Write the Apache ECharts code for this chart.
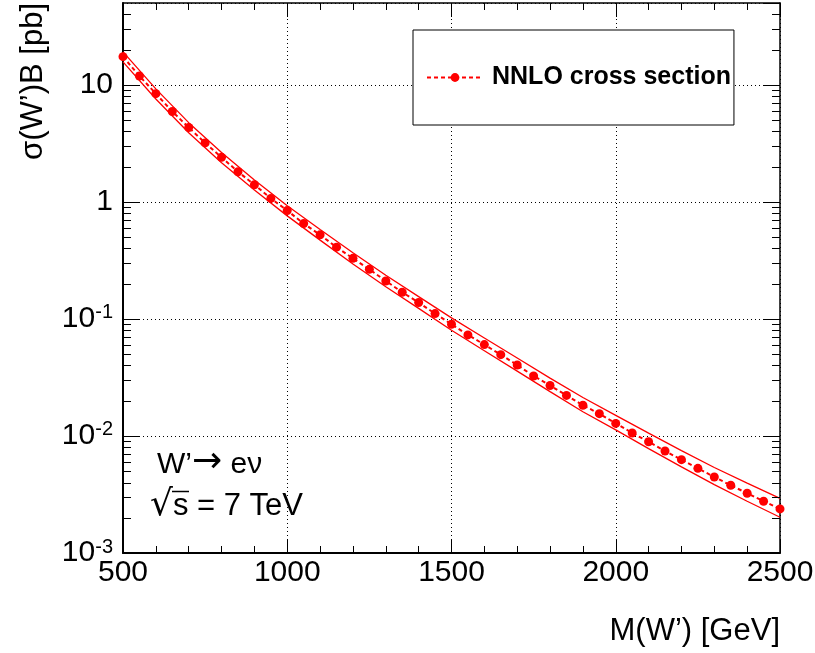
<!DOCTYPE html>
<html>
<head>
<meta charset="utf-8">
<script src="https://cdn.jsdelivr.net/npm/echarts@6/dist/echarts.min.js"></script>
<style>
  html, body { margin: 0; padding: 0; background: #ffffff; }
  #chart { width: 815px; height: 653px; }
</style>
</head>
<body>
<div id="chart"></div>
<script>
// W' -> e nu production at sqrt(s) = 7 TeV: NNLO cross section times branching ratio [pb]
const seriesName = 'NNLO cross section';

const massPoints = [
  500, 550, 600, 650, 700, 750, 800, 850, 900, 950,
  1000, 1050, 1100, 1150, 1200, 1250, 1300, 1350, 1400, 1450,
  1500, 1550, 1600, 1650, 1700, 1750, 1800, 1850, 1900, 1950,
  2000, 2050, 2100, 2150, 2200, 2250, 2300, 2350, 2400, 2450, 2500
];
const nnloXsec = [
  17.4, 11.9, 8.4, 5.92, 4.32, 3.19, 2.40, 1.81, 1.40, 1.07,
  0.843, 0.653, 0.523, 0.410, 0.329, 0.265, 0.211, 0.169, 0.138, 0.111,
  0.0900, 0.0730, 0.0603, 0.0495, 0.0404, 0.0325, 0.0270, 0.0222, 0.0183, 0.0155,
  0.0128, 0.0106, 0.00893, 0.00743, 0.00627, 0.00529, 0.00446, 0.00379, 0.00324, 0.00277, 0.00238
];

// Uncertainty band edges
const bandMass = [
  500, 600, 700, 800, 900, 1000, 1100, 1200, 1300, 1400,
  1500, 1600, 1700, 1800, 1900, 2000, 2100, 2200, 2300, 2400, 2500
];
const bandUpper = [
  19.1, 9.24, 4.75, 2.64, 1.54, 0.927, 0.581, 0.367, 0.236, 0.155,
  0.102, 0.0686, 0.0463, 0.0312, 0.0213, 0.0150, 0.01056, 0.00749, 0.00538, 0.00395, 0.00293
];
const bandLower = [
  15.7, 7.56, 3.89, 2.16, 1.26, 0.759, 0.471, 0.294, 0.188, 0.123,
  0.0800, 0.0535, 0.0358, 0.0239, 0.0161, 0.01126, 0.00780, 0.00544, 0.00384, 0.00277, 0.00202
];

// Axis ticks
const xRange = [500, 2500];
const xTickValues = [500, 1000, 1500, 2000, 2500];
const yRange = [0.001, 50];
const yDecades = [0.001, 0.01, 0.1, 1, 10];
const minorMultipliers = [2, 3, 4, 5, 6, 7, 8, 9];

const FONT = '"Liberation Sans", Arial, Helvetica, sans-serif';
const SYMBOL_FONT = '"DejaVu Sans", sans-serif';

function pairs(xs, ys) {
  return xs.map((x, i) => [x, ys[i]]);
}

// minor log ticks (2..9 per decade) inside the plotted range
const yMinorTicks = [];
yDecades.forEach(d => {
  minorMultipliers.forEach(m => {
    const v = d * m;
    if (v < yRange[1]) yMinorTicks.push([xRange[0], v]);
  });
});

function decadeLabel(value) {
  const e = Math.round(Math.log10(value));
  const hit = yDecades.some(d => Math.abs(Math.log10(d) - Math.log10(value)) < 1e-6);
  if (!hit) return '';
  if (e === 0) return '{b|1}';
  if (e === 1) return '{b|10}';
  return '{b|10}{s|' + e + '}';
}

const richLabel = {
  b: { fontSize: 30, fontFamily: FONT, color: '#000', lineHeight: 32 },
  s: { fontSize: 20, fontFamily: FONT, color: '#000', lineHeight: 32, verticalAlign: 'top', padding: [0, 0, 12, 0] }
};

const chart = echarts.init(document.getElementById('chart'), null, { renderer: 'canvas' });

const option = {
  animation: false,
  backgroundColor: '#ffffff',
  grid: {
    left: 123, right: 35, top: 3, bottom: 100,
    containLabel: false,
    outerBoundsMode: 'none',
    show: false
  },
  legend: {
    data: [seriesName],
    left: 413,
    top: 30,
    orient: 'horizontal',
    backgroundColor: '#ffffff',
    borderColor: '#000000',
    borderWidth: 1,
    padding: [35, 3, 35, 13],
    itemWidth: 56,
    itemHeight: 11,
    textStyle: {
      fontSize: 25, fontWeight: 'bold', fontFamily: FONT, color: '#000',
      padding: [0, 0, 0, 4]
    }
  },
  xAxis: [
    {
      type: 'value',
      min: xRange[0], max: xRange[1], interval: 500,
      position: 'bottom',
      axisLine: { show: true, onZero: false, lineStyle: { color: '#000', width: 2 } },
      axisTick: { show: true, inside: true, length: 14, lineStyle: { color: '#000', width: 1 } },
      minorTick: { show: true, splitNumber: 5, length: 7, lineStyle: { color: '#000', width: 1 } },
      axisLabel: {
        show: true, margin: 5, color: '#000', fontSize: 30, fontFamily: FONT,
        formatter: v => (xTickValues.indexOf(v) >= 0 ? String(v) : '')
      },
      splitLine: { show: true, lineStyle: { color: '#000', width: 1, type: [1, 3] } }
    },
    {
      type: 'value',
      min: xRange[0], max: xRange[1], interval: 500,
      position: 'top',
      axisLine: { show: true, onZero: false, lineStyle: { color: '#000', width: 1.5 } },
      axisTick: { show: true, inside: true, length: 14, lineStyle: { color: '#000', width: 1 } },
      minorTick: { show: true, splitNumber: 5, length: 7, lineStyle: { color: '#000', width: 1 } },
      axisLabel: { show: false },
      splitLine: { show: false }
    }
  ],
  yAxis: [
    {
      type: 'log',
      logBase: 10,
      min: yRange[0], max: yRange[1],
      position: 'left',
      axisLine: { show: true, onZero: false, lineStyle: { color: '#000', width: 2 } },
      axisTick: { show: true, inside: true, length: 16, lineStyle: { color: '#000', width: 1 } },
      axisLabel: {
        show: true, margin: 10, color: '#000', fontFamily: FONT,
        formatter: decadeLabel, rich: richLabel,
        showMaxLabel: false
      },
      splitLine: { show: true, lineStyle: { color: '#000', width: 1, type: [1, 3] } }
    },
    {
      type: 'log',
      logBase: 10,
      min: yRange[0], max: yRange[1],
      position: 'right',
      axisLine: { show: true, onZero: false, lineStyle: { color: '#000', width: 1.5 } },
      axisTick: { show: true, inside: true, length: 16, lineStyle: { color: '#000', width: 1 } },
      axisLabel: { show: false },
      splitLine: { show: false }
    }
  ],
  series: [
    {
      name: 'band-upper',
      type: 'line',
      data: pairs(bandMass, bandUpper),
      symbol: 'none',
      silent: true,
      lineStyle: { color: '#ff0000', width: 1.3, type: 'solid' },
      z: 2
    },
    {
      name: 'band-lower',
      type: 'line',
      data: pairs(bandMass, bandLower),
      symbol: 'none',
      silent: true,
      lineStyle: { color: '#ff0000', width: 1.3, type: 'solid' },
      z: 2
    },
    {
      name: seriesName,
      type: 'line',
      data: pairs(massPoints, nnloXsec),
      symbol: 'circle',
      symbolSize: 9,
      itemStyle: { color: '#ff0000' },
      lineStyle: { color: '#ff0000', width: 2, type: [4, 3] },
      z: 3
    },
    {
      // log minor ticks on the left and right frame
      name: 'minor-ticks',
      type: 'custom',
      silent: true,
      clip: false,
      data: yMinorTicks,
      encode: { x: 0, y: 1 },
      renderItem: function (params, api) {
        const pt = api.coord([api.value(0), api.value(1)]);
        const cs = params.coordSys;
        const y = Math.round(pt[1]) + 0.5;
        return {
          type: 'group',
          children: [
            { type: 'line', shape: { x1: cs.x, y1: y, x2: cs.x + 8, y2: y }, style: { stroke: '#000', lineWidth: 1 } },
            { type: 'line', shape: { x1: cs.x + cs.width - 8, y1: y, x2: cs.x + cs.width, y2: y }, style: { stroke: '#000', lineWidth: 1 } }
          ]
        };
      },
      z: 4
    }
  ],
  graphic: [
    {
      type: 'text', x: 33, y: 3, rotation: Math.PI / 2,
      style: { text: 'σ(W’)B [pb]', font: '31px ' + FONT, fill: '#000', align: 'right', verticalAlign: 'middle' }
    },
    {
      type: 'text', x: 780, y: 631,
      style: { text: 'M(W’) [GeV]', font: '31px ' + FONT, fill: '#000', align: 'right', verticalAlign: 'middle' }
    },
    {
      type: 'text', x: 157, y: 465,
      style: {
        text: '{t|W’}{a|→}{t| eν}',
        align: 'left', verticalAlign: 'middle',
        rich: {
          t: { fontSize: 30, fontFamily: FONT, fill: '#000', lineHeight: 36, verticalAlign: 'middle' },
          a: { fontSize: 36, fontFamily: SYMBOL_FONT, fill: '#000', lineHeight: 36, verticalAlign: 'middle', padding: [0, 0, 4, 0] }
        }
      }
    },
    {
      type: 'text', x: 150, y: 506,
      style: {
        text: '{r|√}{t|s = 7 TeV}',
        align: 'left', verticalAlign: 'middle',
        rich: {
          r: { fontSize: 36, fontFamily: SYMBOL_FONT, fill: '#000', lineHeight: 36, verticalAlign: 'middle' },
          t: { fontSize: 31, fontFamily: FONT, fill: '#000', lineHeight: 36, verticalAlign: 'middle' }
        }
      }
    },
    {
      // overline completing the square-root sign over "s"
      type: 'line',
      shape: { x1: 172, y1: 491.5, x2: 189, y2: 491.5 },
      style: { stroke: '#000', lineWidth: 1.5 }
    }
  ]
};

chart.setOption(option);
</script>
</body>
</html>
